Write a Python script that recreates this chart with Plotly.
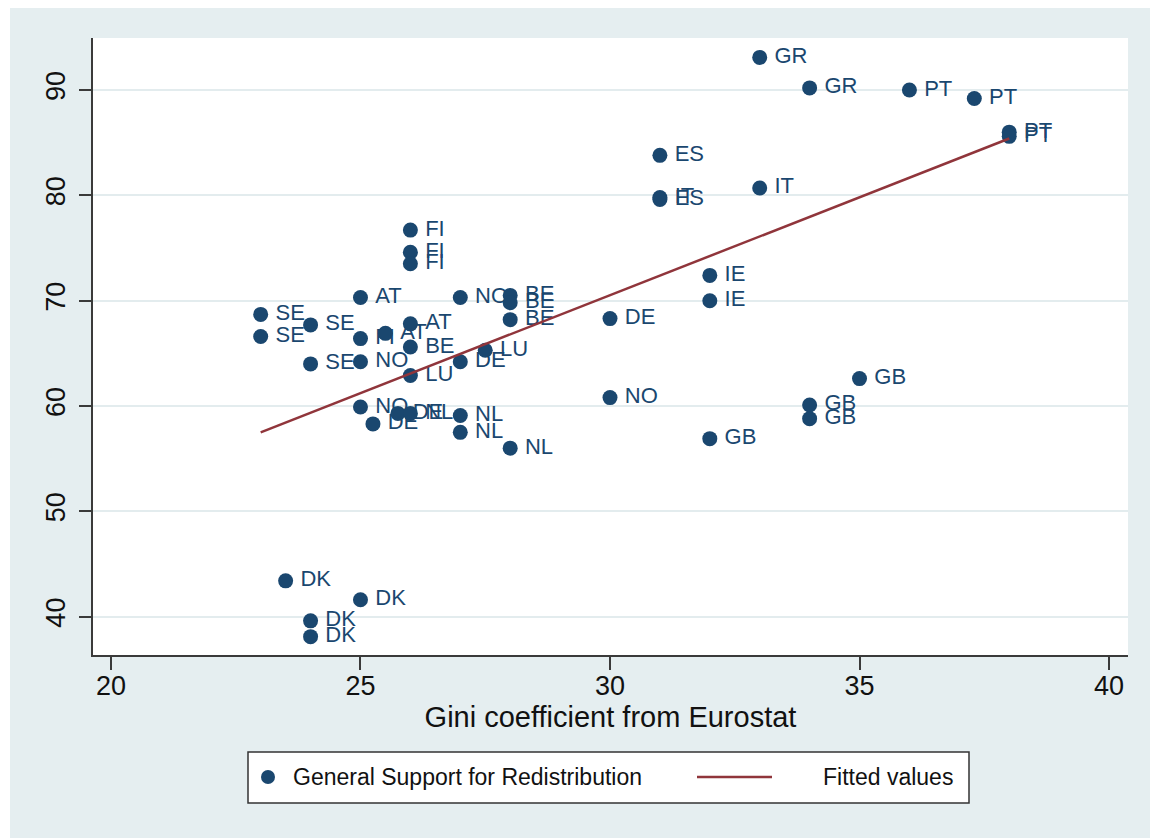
import plotly.graph_objects as go

# Gini coefficient (Eurostat) vs. general support for redistribution, by country-round
countries = [
    "GR", "GR", "PT", "PT", "PT", "PT",
    "ES", "IT", "ES", "IT",
    "FI", "FI", "FI",
    "AT", "NO", "BE", "BE", "BE",
    "SE", "SE", "SE", "SE",
    "AT", "FI", "AT", "BE", "NO", "LU", "DE", "LU",
    "NO", "DE", "NL", "DE", "NL", "NL", "NL",
    "DE", "NO", "IE", "IE",
    "GB", "GB", "GB", "GB",
    "DK", "DK", "DK", "DK",
]
gini = [
    33.0, 34.0, 36.0, 37.3, 38.0, 38.0,
    31.0, 31.0, 31.0, 33.0,
    26.0, 26.0, 26.0,
    25.0, 27.0, 28.0, 28.0, 28.0,
    23.0, 24.0, 23.0, 24.0,
    26.0, 25.0, 25.5, 26.0, 25.0, 27.5, 27.0, 26.0,
    25.0, 25.75, 26.0, 25.25, 27.0, 27.0, 28.0,
    30.0, 30.0, 32.0, 32.0,
    35.0, 34.0, 34.0, 32.0,
    23.5, 25.0, 24.0, 24.0,
]
support = [
    93.1, 90.2, 90.0, 89.2, 86.0, 85.6,
    83.8, 79.8, 79.6, 80.7,
    76.7, 74.6, 73.5,
    70.3, 70.3, 70.5, 69.8, 68.2,
    68.7, 67.7, 66.6, 64.0,
    67.8, 66.4, 66.9, 65.6, 64.2, 65.3, 64.2, 62.9,
    59.9, 59.3, 59.3, 58.3, 59.1, 57.5, 56.0,
    68.3, 60.8, 72.4, 70.0,
    62.6, 60.1, 58.8, 56.9,
    43.4, 41.6, 39.6, 38.1,
]

# Fitted regression line (end points)
fit_x = [23.0, 38.0]
fit_y = [57.5, 85.4]

x_ticks = [20, 25, 30, 35, 40]
y_ticks = [40, 50, 60, 70, 80, 90]

NAVY = "#1a476f"
MAROON = "#90353b"
BG = "#e5eef0"
GRID = "#e3ecee"
AXIS = "#3a3a3a"
FONT = "Arial, Liberation Sans, sans-serif"

W, H = 1150, 838
ML, MR, MT, MB = 93, 22, 38, 183
PW, PH = W - ML - MR, H - MT - MB


def px(x):
    return (x - ML) / PW


def py(y):
    return (H - MB - y) / PH


fig = go.Figure()

# a thin leading space widens the gap between each marker and its country label
fig.add_trace(go.Scatter(
    x=gini, y=support, mode="markers+text", text=["\u2009" + c for c in countries],
    textposition="middle right",
    textfont=dict(family=FONT, size=22, color=NAVY),
    marker=dict(color=NAVY, size=15, line=dict(width=0)),
    name="General Support for Redistribution", showlegend=False,
    cliponaxis=False,
))

fig.add_trace(go.Scatter(
    x=fit_x, y=fit_y, mode="lines",
    line=dict(color=MAROON, width=2.5),
    name="Fitted values", showlegend=False,
))

shapes = [
    # white image border strips
    dict(type="rect", xref="paper", yref="paper", x0=px(0), x1=px(W), y0=py(8), y1=py(0),
         fillcolor="white", line=dict(width=0), layer="above"),
    dict(type="rect", xref="paper", yref="paper", x0=px(0), x1=px(10), y0=py(H), y1=py(0),
         fillcolor="white", line=dict(width=0), layer="above"),
    # legend box
    dict(type="rect", xref="paper", yref="paper", x0=px(248), x1=px(969), y0=py(803), y1=py(752),
         fillcolor="white", line=dict(color="#333333", width=1.5), layer="above"),
    # legend marker
    dict(type="circle", xref="paper", yref="paper", x0=px(261), x1=px(275), y0=py(784), y1=py(770),
         fillcolor=NAVY, line=dict(width=0), layer="above"),
    # legend line
    dict(type="line", xref="paper", yref="paper", x0=px(697), x1=px(772), y0=py(777), y1=py(777),
         line=dict(color=MAROON, width=2.5), layer="above"),
]

annotations = [
    dict(text="General Support for Redistribution", xref="paper", yref="paper",
         x=px(291), y=py(777), xanchor="left", yanchor="middle", showarrow=False,
         font=dict(family=FONT, size=23, color="#111111")),
    dict(text="Fitted values", xref="paper", yref="paper",
         x=px(821), y=py(777), xanchor="left", yanchor="middle", showarrow=False,
         font=dict(family=FONT, size=23, color="#111111")),
]

fig.update_layout(
    width=W, height=H,
    margin=dict(l=ML, r=MR, t=MT, b=MB, pad=0),
    paper_bgcolor=BG, plot_bgcolor="white",
    showlegend=False,
    shapes=shapes, annotations=annotations,
    font=dict(family=FONT, color="#111111"),
    xaxis=dict(
        range=[19.64, 40.38], tickvals=x_ticks, ticktext=[str(v) for v in x_ticks],
        showgrid=False, zeroline=False,
        showline=True, linecolor=AXIS, linewidth=1.5,
        ticks="outside", ticklen=13, tickwidth=1.5, tickcolor=AXIS,
        ticklabelstandoff=-7,
        tickfont=dict(family=FONT, size=27, color="#111111"),
        title=dict(text="Gini coefficient from Eurostat", standoff=6,
                   font=dict(family=FONT, size=29, color="#111111")),
    ),
    yaxis=dict(
        range=[36.36, 94.94], tickvals=y_ticks, ticktext=[str(v) for v in y_ticks],
        showgrid=True, gridcolor=GRID, gridwidth=2, zeroline=False,
        showline=True, linecolor=AXIS, linewidth=1.5,
        ticks="outside", ticklen=12, tickwidth=1.5, tickcolor=AXIS,
        tickangle=-90, ticklabelstandoff=3,
        tickfont=dict(family=FONT, size=27, color="#111111"),
    ),
)

fig.write_html("out.html")
